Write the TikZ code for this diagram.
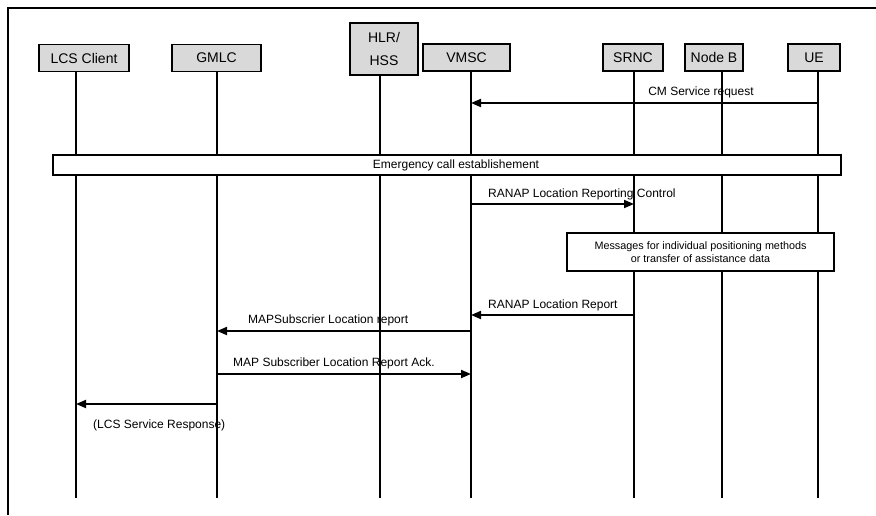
\documentclass[tikz,border=0pt]{standalone}
\usepackage{fontspec}
\setmainfont{Liberation Sans}
\usetikzlibrary{arrows.meta}

\begin{document}
\begin{tikzpicture}[x=1pt,y=-1pt,
    entity/.style={draw,line width=1.7pt,fill=gray!30,inner sep=0pt,
        minimum height=27pt,font=\fontsize{14}{16}\selectfont},
    lifeline/.style={line width=1.3pt},
    msg/.style={line width=1.8pt,-{Triangle[length=10pt,width=8pt]}},
    lbl/.style={font=\fontsize{12}{14}\selectfont,inner sep=0pt},
    phasebox/.style={draw,line width=1.3pt,fill=white,inner sep=0pt,align=center}]
    \useasboundingbox (0,0) rectangle (876,515);

    \coordinate (cornerA) at (876,8);
    \coordinate (cornerB) at (8,8);
    \coordinate (cornerC) at (8,515);
    \coordinate (bottom) at (0,498);

    \coordinate (xLCS) at (76,0);
    \coordinate (xGMLC) at (217,0);
    \coordinate (xHLR) at (380,0);
    \coordinate (xVMSC) at (471,0);
    \coordinate (xSRNC) at (634,0);
    \coordinate (xNodeB) at (722,0);
    \coordinate (xUE) at (818,0);

    \coordinate (yCM) at (0,103);
    \coordinate (yRLRC) at (0,204);
    \coordinate (yRLR) at (0,315);
    \coordinate (yMAP) at (0,331);
    \coordinate (yAck) at (0,374);
    \coordinate (yResp) at (0,404);

    \draw[line width=1.2pt] (cornerA) -- (cornerB) -- (cornerC);

    \node[entity,minimum width=90pt] (lcs) at (84,58) {LCS Client};
    \node[entity,minimum width=89pt] (gmlc) at (216.5,58) {GMLC};
    \node[entity,minimum width=68pt,minimum height=52pt,align=center,
        font=\fontsize{14}{23}\selectfont] (hlr) at (384,49) {HLR/\\HSS};
    \node[entity,minimum width=87pt] (vmsc) at (466.5,57.5) {VMSC};
    \node[entity,minimum width=60pt] (srnc) at (633,57.5) {SRNC};
    \node[entity,minimum width=58pt] (nodeb) at (714,57.5) {Node B};
    \node[entity,minimum width=52pt] (ue) at (814,57.5) {UE};

    \draw[lifeline] (xLCS |- lcs.south) -- (xLCS |- bottom);
    \draw[lifeline] (xGMLC |- gmlc.south) -- (xGMLC |- bottom);
    \draw[lifeline] (xHLR |- hlr.south) -- (xHLR |- bottom);
    \draw[lifeline] (xVMSC |- vmsc.south) -- (xVMSC |- bottom);
    \draw[lifeline] (xSRNC |- srnc.south) -- (xSRNC |- bottom);
    \draw[lifeline] (xNodeB |- nodeb.south) -- (xNodeB |- bottom);
    \draw[lifeline] (xUE |- ue.south) -- (xUE |- bottom);

    \node[phasebox,minimum width=788pt,minimum height=20pt,
        font=\fontsize{12}{14}\selectfont] (emerg) at (447,165)
        {\hspace*{18pt}Emergency call establishement};
    \node[phasebox,minimum width=267pt,minimum height=38pt,
        font=\fontsize{10.8}{13}\selectfont] (posmsg) at (700.5,252)
        {Messages for individual positioning methods\\or transfer of assistance data};

    \draw[msg] (xUE |- yCM) -- (xVMSC |- yCM);
    \draw[msg] (xVMSC |- yRLRC) -- (xSRNC |- yRLRC);
    \draw[msg] (xSRNC |- yRLR) -- (xVMSC |- yRLR);
    \draw[msg] (xVMSC |- yMAP) -- (xGMLC |- yMAP);
    \draw[msg] (xGMLC |- yAck) -- (xVMSC |- yAck);
    \draw[msg] (xGMLC |- yResp) -- (xLCS |- yResp);

    \node[lbl] (lCM) at (701,92) {CM Service request};
    \node[lbl,anchor=west] (lRLRC) at (488,194) {RANAP Location Reporting Control};
    \node[lbl,anchor=west] (lRLR) at (488,305) {RANAP Location Report};
    \node[lbl,anchor=west] (lMAP) at (248,320) {MAPSubscrier Location report};
    \node[lbl,anchor=west] (lAck) at (233,363) {MAP Subscriber Location Report Ack.};
    \node[lbl,anchor=west] (lResp) at (93,425) {(LCS Service Response)};
\end{tikzpicture}
\end{document}
